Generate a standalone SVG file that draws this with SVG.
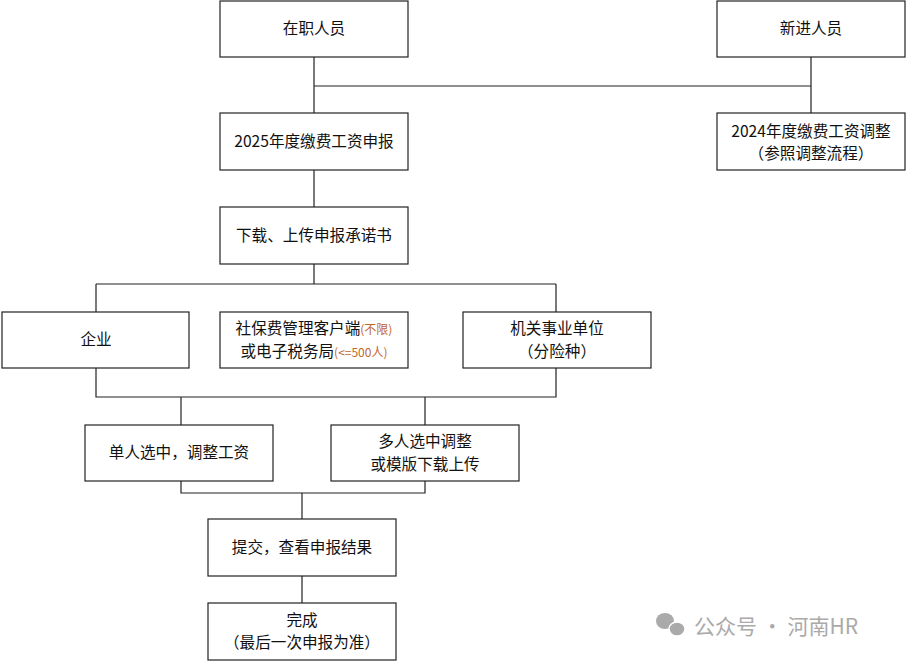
<svg xmlns="http://www.w3.org/2000/svg" width="907" height="661" viewBox="0 0 907 661">
<style>
.b{fill:#fff;stroke:#222;stroke-width:1.2}
.t{font-family:"Noto Sans CJK SC","Liberation Sans",sans-serif;font-size:15.6px;fill:#111;text-anchor:middle}
.o{fill:#c0662a;font-size:12px}
.c{fill:none;stroke:#222;stroke-width:1.2}
</style>
<rect width="907" height="661" fill="#fff"/>
<g id="connectors">
<path class="c" d="M314 57V113M314 86H811M811 57V113M314 170V207M314 264V284M96 284H556M96 284V312M556 284V312M96 368V397H556V368M181 397V425M425 397V425M181 481V493H425V481M302 493V519M302 576V603"/>
</g>
<g id="n1"><rect class="b" x="220" y="1" width="188" height="56"/><text class="t" x="314" y="34">在职人员</text></g>
<g id="n2"><rect class="b" x="717" y="1" width="188" height="56"/><text class="t" x="811" y="34">新进人员</text></g>
<g id="n3"><rect class="b" x="220" y="113" width="188" height="57"/><text class="t" x="314" y="147">2025年度缴费工资申报</text></g>
<g id="n4"><rect class="b" x="717" y="113" width="188" height="57"/><text class="t" x="811" y="137">2024年度缴费工资调整</text><text class="t" x="811" y="159">（参照调整流程）</text></g>
<g id="n5"><rect class="b" x="220" y="207" width="188" height="57"/><text class="t" x="314" y="241">下载、上传申报承诺书</text></g>
<g id="n6"><rect class="b" x="2" y="312" width="187" height="56"/><text class="t" x="96" y="345">企业</text></g>
<g id="n7"><rect class="b" x="220" y="312" width="188" height="56"/><text class="t" x="314" y="334">社保费管理客户端<tspan class="o">(不限)</tspan></text><text class="t" x="314" y="357">或电子税务局<tspan class="o">(&lt;=500人)</tspan></text></g>
<g id="n8"><rect class="b" x="463" y="312" width="188" height="56"/><text class="t" x="557" y="334">机关事业单位</text><text class="t" x="557" y="357">（分险种）</text></g>
<g id="n9"><rect class="b" x="85" y="425" width="188" height="56"/><text class="t" x="179" y="458">单人选中，调整工资</text></g>
<g id="n10"><rect class="b" x="331" y="425" width="188" height="56"/><text class="t" x="425" y="447">多人选中调整</text><text class="t" x="425" y="470">或模版下载上传</text></g>
<g id="n11"><rect class="b" x="208" y="519" width="188" height="57"/><text class="t" x="302" y="553">提交，查看申报结果</text></g>
<g id="n12"><rect class="b" x="208" y="603" width="188" height="57"/><text class="t" x="302" y="626">完成</text><text class="t" x="302" y="648">（最后一次申报为准）</text></g>
<g id="wm" fill="#aaa">
<ellipse cx="665" cy="621" rx="9" ry="8"/><ellipse cx="677" cy="629" rx="8" ry="7" stroke="#fff" stroke-width="1.5"/>
<text x="694" y="634" font-family="Noto Sans CJK SC,sans-serif" font-size="21" fill="#aaa">公众号 · 河南HR</text>
</g>
</svg>
